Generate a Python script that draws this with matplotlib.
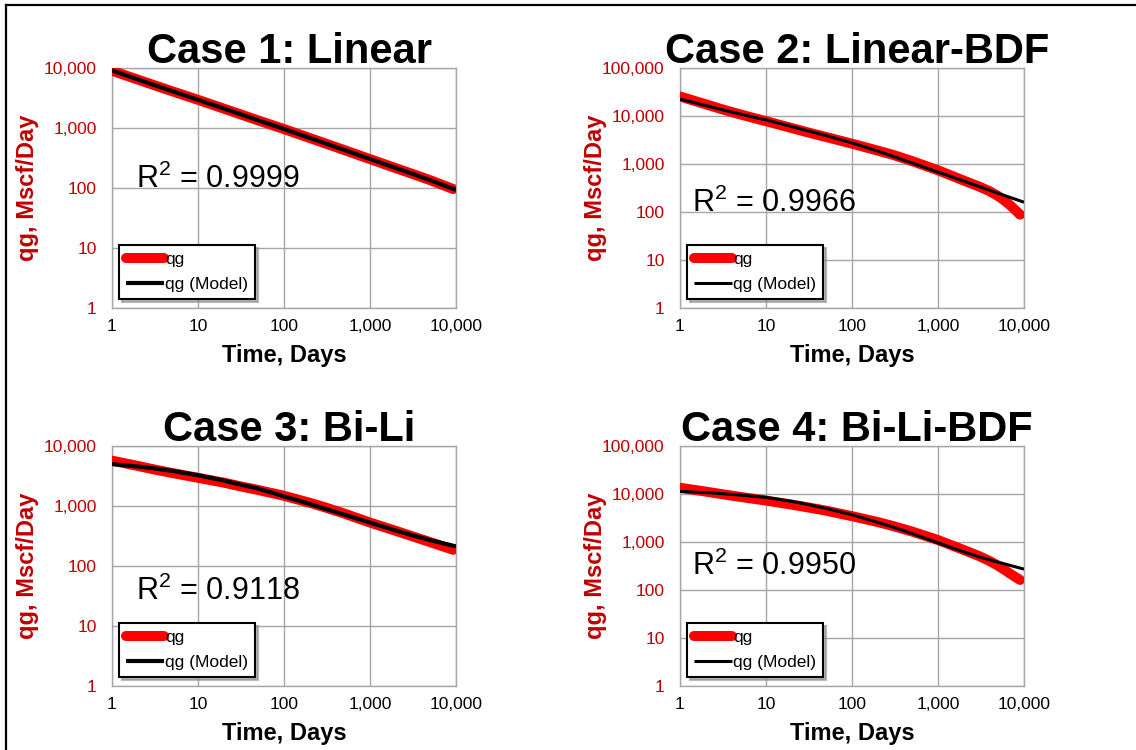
import matplotlib
matplotlib.use("Agg")
import matplotlib.pyplot as plt
from matplotlib.ticker import StrMethodFormatter, NullLocator, LogLocator
from matplotlib.lines import Line2D

plt.rcParams['font.family'] = ['Liberation Sans', 'DejaVu Sans']
plt.rcParams['mathtext.default'] = 'regular'

# Rate-time data for the four flow-regime cases (days, Mscf/day)
t_obs_1 = [1, 2, 3, 5, 10, 20, 30, 50, 100, 200, 300, 500, 1000, 2000, 3000, 5000, 9300]
q_obs_1 = [9000, 6400, 5250, 4100, 2950, 2100, 1720, 1340, 960, 680, 555, 430, 303, 214, 175, 135, 96]
t_mod_1 = [1, 2, 3, 5, 10, 20, 30, 50, 100, 200, 300, 500, 1000, 2000, 3000, 5000, 10000]
q_mod_1 = [9100, 6450, 5280, 4120, 2960, 2110, 1730, 1345, 965, 682, 557, 432, 304, 215, 176, 135, 93]

t_obs_2 = [1, 2, 3, 5, 10, 20, 30, 50, 100, 200, 300, 500, 1000, 2000, 3000, 4000, 5000, 6000, 7000, 8000, 9000]
q_obs_2 = [25500, 17500, 14000, 10800, 7800, 5600, 4600, 3650, 2650, 1900, 1550, 1150, 740, 450, 340, 270, 215, 170, 135, 108, 88]
t_mod_2 = [1, 2, 3, 5, 10, 20, 30, 50, 100, 200, 300, 500, 1000, 2000, 3000, 5000, 10000]
q_mod_2 = [22500, 16500, 13700, 11000, 8300, 6000, 4950, 3900, 2750, 1850, 1450, 1050, 680, 440, 340, 245, 160]

t_obs_3 = [1, 2, 3, 5, 10, 20, 30, 50, 100, 200, 300, 500, 1000, 2000, 3000, 5000, 9300]
q_obs_3 = [5700, 4650, 4100, 3550, 2950, 2450, 2150, 1850, 1480, 1130, 950, 750, 530, 385, 318, 250, 186]
t_mod_3 = [1, 2, 3, 5, 10, 20, 30, 50, 100, 200, 300, 500, 1000, 2000, 3000, 5000, 10000]
q_mod_3 = [5000, 4550, 4250, 3850, 3250, 2650, 2300, 1950, 1450, 1080, 900, 720, 530, 390, 330, 270, 212]

t_obs_4 = [1, 2, 3, 5, 10, 20, 30, 50, 100, 200, 300, 500, 1000, 2000, 3000, 4000, 5000, 6000, 7000, 8000, 9000]
q_obs_4 = [13500, 11200, 10000, 8700, 7300, 6000, 5300, 4500, 3450, 2600, 2150, 1650, 1100, 680, 510, 400, 320, 260, 215, 185, 162]
t_mod_4 = [1, 2, 3, 5, 10, 20, 30, 50, 100, 200, 300, 500, 1000, 2000, 3000, 5000, 10000]
q_mod_4 = [11300, 10700, 10200, 9500, 8500, 7000, 6100, 5000, 3700, 2550, 2050, 1500, 960, 620, 490, 380, 272]

titles = ["Case 1: Linear", "Case 2: Linear-BDF", "Case 3: Bi-Li", "Case 4: Bi-Li-BDF"]
r2_labels = ["R$^{2}$ = 0.9999", "R$^{2}$ = 0.9966", "R$^{2}$ = 0.9118", "R$^{2}$ = 0.9950"]
y_tops = [1e4, 1e5, 1e4, 1e5]

cases = [
    (t_obs_1, q_obs_1, t_mod_1, q_mod_1),
    (t_obs_2, q_obs_2, t_mod_2, q_mod_2),
    (t_obs_3, q_obs_3, t_mod_3, q_mod_3),
    (t_obs_4, q_obs_4, t_mod_4, q_mod_4),
]

W, H = 1136, 750
fig = plt.figure(figsize=(W / 100, H / 100), dpi=100)

# axes boxes in pixels: left, top
boxes = [(112, 68), (680, 68), (112, 446), (680, 446)]
ax_w, ax_h = 344, 240
r2_pos = [(0.07, 0.50), (0.035, 0.40), (0.07, 0.358), (0.035, 0.4625)]
model_lw = [3.0, 2.2, 3.0, 2.2]

dark_red = "#C00000"
grid_c = "#A6A6A6"

for i, (t_o, q_o, t_m, q_m) in enumerate(cases):
    left, top = boxes[i]
    ax = fig.add_axes([left / W, 1 - (top + ax_h) / H, ax_w / W, ax_h / H])
    ax.set_xscale("log")
    ax.set_yscale("log")
    ax.set_xlim(1, 10000)
    ax.set_ylim(1, y_tops[i])

    ax.plot(t_o, q_o, color="#FF0000", lw=7.2, solid_capstyle="round",
            solid_joinstyle="round", label="qg", zorder=3)
    ax.plot(t_m, q_m, color="black", lw=model_lw[i], solid_capstyle="butt",
            solid_joinstyle="round", label="qg (Model)", zorder=4)

    ax.xaxis.set_major_locator(LogLocator(base=10, numticks=10))
    ax.yaxis.set_major_locator(LogLocator(base=10, numticks=10))
    ax.xaxis.set_minor_locator(NullLocator())
    ax.yaxis.set_minor_locator(NullLocator())
    ax.xaxis.set_major_formatter(StrMethodFormatter("{x:,.0f}"))
    ax.yaxis.set_major_formatter(StrMethodFormatter("{x:,.0f}"))
    ax.tick_params(axis="both", length=0, labelsize=12.5)
    ax.tick_params(axis="x", pad=8, labelcolor="black")
    ax.tick_params(axis="y", pad=11, labelcolor=dark_red)

    ax.grid(True, color=grid_c, lw=1.0)
    ax.set_axisbelow(True)
    for sp in ax.spines.values():
        sp.set_color(grid_c)
        sp.set_linewidth(1.0)

    ax.set_xlabel("Time, Days", fontsize=17, fontweight="bold", va="center")
    ax.xaxis.set_label_coords(0.5, -0.196)
    ax.set_ylabel("qg, Mscf/Day", fontsize=17, fontweight="bold",
                  color=dark_red, va="center")
    ax.yaxis.set_label_coords(-0.247, 0.5)

    ax.text(0.515, 1 + 5 / ax_h, titles[i], transform=ax.transAxes,
            ha="center", va="baseline", fontsize=30, fontweight="bold")
    ax.text(r2_pos[i][0], r2_pos[i][1], r2_labels[i], transform=ax.transAxes,
            ha="left", va="baseline", fontsize=22, zorder=5)

    leg = ax.legend(loc="lower left", bbox_to_anchor=(0.02, 0.0375),
                    fontsize=12.5, frameon=True, fancybox=False,
                    shadow={"color": "0.55", "alpha": 0.6},
                    handlelength=2.2, handletextpad=0.05, borderpad=0.4,
                    labelspacing=0.55, borderaxespad=0)
    leg.get_frame().set_edgecolor("black")
    leg.get_frame().set_linewidth(1.5)
    leg.set_zorder(6)

# outer frame on the top and left edges
fig.add_artist(Line2D([5.5 / W, 5.5 / W], [0, 1 - 5 / H], color="black", lw=1.6))
fig.add_artist(Line2D([5.5 / W, 1], [1 - 5 / H, 1 - 5 / H], color="black", lw=1.6))

fig.savefig("out.png", dpi=100)
